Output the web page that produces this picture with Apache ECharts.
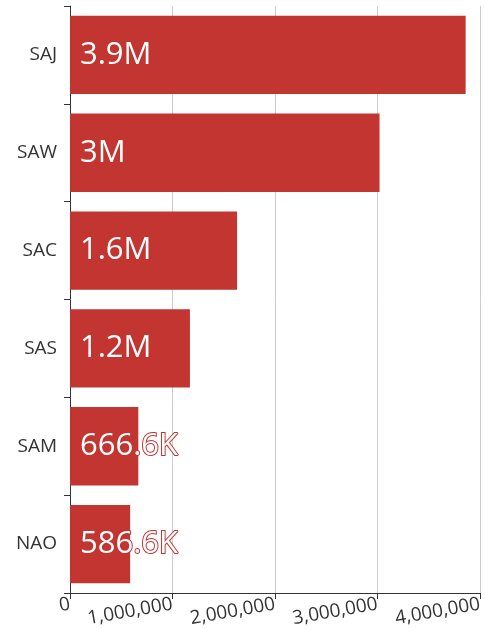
<!DOCTYPE html>
<html>
<head>
<meta charset="utf-8">
<script src="https://cdn.jsdelivr.net/npm/echarts@6/dist/echarts.min.js"></script>
<style>
  html, body { margin: 0; padding: 0; background: #fff; }
  #chart { width: 485px; height: 629px; }
</style>
</head>
<body>
<div id="chart"></div>
<script>
// data
var categories = ['SAJ', 'SAW', 'SAC', 'SAS', 'SAM', 'NAO'];
var values = [3860000, 3020000, 1630000, 1170000, 666600, 586600];
var axisMax = 4000000;
var axisStep = 1000000;

function shortNum(v) {
  var s;
  if (v >= 1e6) {
    s = (v / 1e6).toFixed(1).replace(/\.0$/, '') + 'M';
  } else if (v >= 1e3) {
    s = (v / 1e3).toFixed(1).replace(/\.0$/, '') + 'K';
  } else {
    s = String(v);
  }
  return s;
}

var chart = echarts.init(document.getElementById('chart'));
var red = '#c23531';
var option = {
  animation: false,
  textStyle: { fontFamily: 'Open Sans' },
  grid: { left: 70, right: 5, top: 6, bottom: 36 },
  xAxis: {
    type: 'value',
    min: 0,
    max: axisMax,
    interval: axisStep,
    axisLine: { show: true, lineStyle: { color: '#333' } },
    axisTick: { show: true, length: 6, lineStyle: { color: '#333' } },
    splitLine: { show: true, lineStyle: { color: '#ccc' } },
    axisLabel: {
      rotate: 10,
      fontSize: 19,
      margin: 11,
      color: '#333',
      formatter: function (v) { return v.toLocaleString('en-US'); }
    }
  },
  yAxis: {
    type: 'category',
    inverse: true,
    data: categories,
    axisLine: { show: true, lineStyle: { color: '#333' } },
    axisTick: { show: true, length: 6, lineStyle: { color: '#333' } },
    axisLabel: { fontSize: 19, color: '#333', margin: 13 }
  },
  series: [{
    type: 'bar',
    data: values,
    barCategoryGap: '20%',
    itemStyle: { color: red },
    label: {
      show: true,
      position: 'insideLeft',
      distance: 10,
      fontSize: 31,
      color: '#fff',
      textBorderColor: red,
      textBorderWidth: 2,
      formatter: function (p) { return shortNum(p.value); }
    }
  }]
};
chart.setOption(option);
</script>
</body>
</html>
